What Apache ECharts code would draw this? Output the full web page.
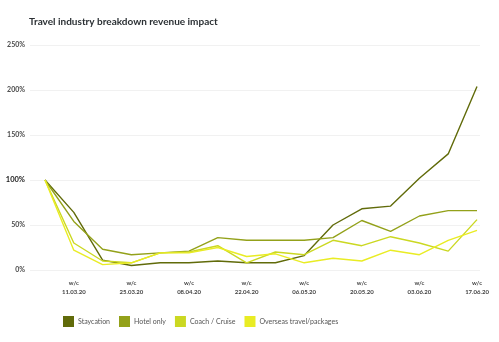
<!DOCTYPE html>
<html>
<head>
<meta charset="utf-8">
<script src="https://cdn.jsdelivr.net/npm/echarts@6/dist/echarts.min.js"></script>
<style>
  html, body { margin: 0; padding: 0; background: #fff; }
  #chart { width: 499px; height: 342px; }
</style>
</head>
<body>
<div id="chart"></div>
<script>
// Weekly revenue index (week commencing), first week = 100%
const weeks = ['04.03.20', '11.03.20', '18.03.20', '25.03.20', '01.04.20', '08.04.20',
  '15.04.20', '22.04.20', '29.04.20', '06.05.20', '13.05.20', '20.05.20',
  '27.05.20', '03.06.20', '10.06.20', '17.06.20'];
const staycation = [100, 64, 11, 5, 8, 8, 10, 8, 8, 16, 50, 68, 71, 102, 129, 204];
const hotelOnly = [100, 54, 23, 17, 19, 21, 36, 33, 33, 33, 36, 55, 43, 60, 66, 66];
const coachCruise = [100, 30, 10, 8, 19, 20, 27, 8, 20, 17, 33, 27, 37, 30, 21, 56];
const overseas = [100, 22, 6, 8, 19, 19, 25, 15, 18, 8, 13, 10, 22, 17, 33, 44];
const yTicks = [0, 50, 100, 150, 200, 250];

const seriesDefs = [
  { name: 'Staycation', data: staycation, color: '#616b0a' },
  { name: 'Hotel only', data: hotelOnly, color: '#93a11a' },
  { name: 'Coach / Cruise', data: coachCruise, color: '#cbd822' },
  { name: 'Overseas travel/packages', data: overseas, color: '#e9ec24' }
];

const chart = echarts.init(document.getElementById('chart'), null, { renderer: 'canvas' });

const yRange = { min: yTicks[0], max: yTicks[yTicks.length - 1], interval: 50 };

chart.setOption({
  backgroundColor: '#ffffff',
  animation: false,
  title: {
    text: 'Travel industry breakdown revenue impact',
    left: 24,
    top: 12,
    textStyle: { fontFamily: 'Lato', fontSize: 10, fontWeight: 'bold', color: '#2b3034' }
  },
  legend: {
    left: 58,
    top: 311,
    icon: 'rect',
    itemWidth: 11,
    itemHeight: 11,
    itemGap: 9,
    textStyle: { fontFamily: 'Lato', fontSize: 7, color: '#555', padding: [0, 0, 0, -1] },
    data: seriesDefs.map(s => s.name)
  },
  grid: [
    // background grid carrying the percentage scale and gridlines
    { left: 30, right: 19, top: 45, bottom: 72 },
    // plotting grid for the weekly lines
    { left: 45, right: 22, top: 45, bottom: 72 }
  ],
  xAxis: [
    { type: 'value', gridIndex: 0, show: false, min: 0, max: 1 },
    {
      type: 'category',
      gridIndex: 1,
      data: weeks,
      boundaryGap: false,
      axisLine: { show: false },
      axisTick: { show: false },
      axisLabel: {
        interval: (i) => i % 2 === 1,
        formatter: (v) => 'w/c\n' + v,
        fontFamily: 'Lato',
        fontSize: 6,
        fontWeight: 'bold',
        color: '#444',
        lineHeight: 9,
        margin: 9
      }
    }
  ],
  yAxis: [
    {
      type: 'value',
      gridIndex: 0,
      ...yRange,
      axisLine: { show: false },
      axisTick: { show: false },
      splitLine: { lineStyle: { color: '#f1f1f1', width: 1 } },
      axisLabel: {
        margin: 5,
        formatter: (v) => v === 100 ? '{b|' + v + '%}' : v + '%',
        fontFamily: 'Lato',
        fontSize: 7,
        fontWeight: 'bold',
        color: '#4a4a4a',
        rich: { b: { fontFamily: 'Lato', fontSize: 7.5, fontWeight: 'bold', color: '#1a1a1a' } }
      }
    },
    { type: 'value', gridIndex: 1, ...yRange, show: false }
  ],
  series: seriesDefs.map(s => ({
    name: s.name,
    type: 'line',
    xAxisIndex: 1,
    yAxisIndex: 1,
    data: s.data,
    showSymbol: false,
    symbol: 'none',
    color: s.color,
    lineStyle: { width: 1.4, color: s.color }
  }))
});
</script>
</body>
</html>
